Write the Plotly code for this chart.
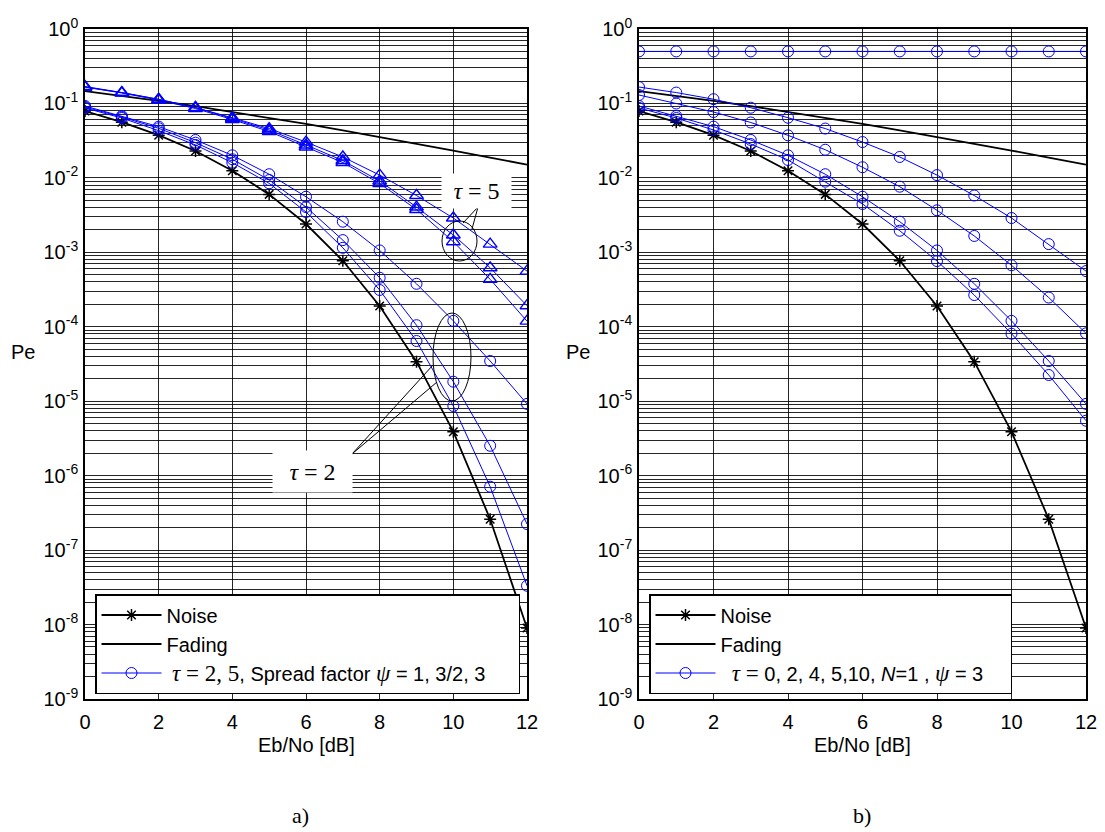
import plotly.graph_objects as go

W, H = 1105, 832

# ---------------- data ----------------
ebno = [0, 1, 2, 3, 4, 5, 6, 7, 8, 9, 10, 11, 12]
noise = [7.9e-2, 5.6e-2, 3.75e-2, 2.3e-2, 1.25e-2, 6.0e-3, 2.4e-3, 7.7e-4, 1.9e-4, 3.4e-5, 3.9e-6, 2.6e-7, 9.0e-9]
fading = [0.146, 0.127, 0.108, 0.092, 0.077, 0.064, 0.053, 0.0435, 0.0355, 0.0288, 0.0233, 0.0187, 0.0151]

# (a) tau = 5, psi = 3, 3/2, 1  (triangles)
tri_a1 = [0.166, 0.140, 0.114, 0.0877, 0.0643, 0.046, 0.0303, 0.0191, 0.0109, 0.0058, 0.00289, 0.00129, 5.6e-4]
tri_a2 = [0.169, 0.140, 0.113, 0.0882, 0.0628, 0.044, 0.0277, 0.0171, 0.00908, 0.00406, 0.00171, 6.2e-4, 1.92e-4]
tri_a3 = [0.166, 0.138, 0.111, 0.0855, 0.0608, 0.042, 0.026, 0.0161, 0.0084, 0.00376, 0.00139, 4.34e-4, 1.19e-4]
# (a) tau = 2, psi = 3, 3/2, 1  (circles)
cir_a1 = [0.0924, 0.0678, 0.0488, 0.0323, 0.0201, 0.0112, 0.00558, 0.00258, 0.00106, 3.78e-4, 1.2e-4, 3.47e-5, 9.2e-6]
cir_a2 = [0.0895, 0.0657, 0.0464, 0.0297, 0.0178, 0.00937, 0.00406, 0.00146, 4.56e-4, 1.05e-4, 1.83e-5, 2.52e-6, 2.24e-7]
cir_a3 = [0.0869, 0.0637, 0.0431, 0.0277, 0.016, 0.00845, 0.00348, 0.00115, 3.12e-4, 6.44e-5, 8.63e-6, 7.11e-7, 3.32e-8]

# (b) tau = 10, 5, 4, 2, 0 ; N = 1 ; psi = 3  (circles)
cir_b_t10 = [0.5, 0.5, 0.5, 0.5, 0.5, 0.5, 0.5, 0.5, 0.5, 0.5, 0.5, 0.5, 0.5]
cir_b_t5 = [0.166, 0.140, 0.114, 0.0877, 0.0643, 0.046, 0.0303, 0.0191, 0.0109, 0.0058, 0.00289, 0.00129, 5.6e-4]
cir_b_t4 = [0.1298, 0.0998, 0.0767, 0.0555, 0.0373, 0.0239, 0.0139, 0.00762, 0.00367, 0.00166, 6.7e-4, 2.47e-4, 8.17e-5]
cir_b_t2 = [0.0924, 0.0678, 0.0488, 0.0323, 0.0201, 0.0112, 0.00558, 0.00258, 0.00106, 3.78e-4, 1.2e-4, 3.47e-5, 9.2e-6]
cir_b_t0 = [0.0869, 0.0637, 0.044, 0.0285, 0.0174, 0.0089, 0.00446, 0.00195, 7.64e-4, 2.67e-4, 8.07e-5, 2.25e-5, 5.47e-6]

x_ticks = [0, 2, 4, 6, 8, 10, 12]
y_exps = [-9, -8, -7, -6, -5, -4, -3, -2, -1, 0]

# ---------------- styling ----------------
SANS = "Liberation Sans, Arial, sans-serif"
SERIF = "Liberation Serif, Times New Roman, serif"
BLUE = "#0000FF"
GRID = "rgba(0,0,0,0.85)"
NB = "\u00a0"


def px(x):
    return x / W


def py(y):
    return 1 - y / H


fig = go.Figure()


def add_line(xa, ya, y, color, width, symbol=None, msize=0, mlw=1.0, name="", legend="legend", show=False):
    mode = "lines+markers" if symbol else "lines"
    fig.add_trace(go.Scatter(
        x=ebno, y=y, mode=mode, name=name, xaxis=xa, yaxis=ya,
        line=dict(color=color, width=width),
        marker=dict(symbol=symbol or "circle", size=msize, color=color,
                    line=dict(color=color, width=mlw)),
        showlegend=show, legend=legend,
    ))


leg_a = (NB + '<span style="font-family:Liberation Serif;font-size:23px"><i>τ</i> = 2, 5</span>, '
         'Spread factor <span style="font-family:Liberation Serif;font-size:23px"><i>ψ</i></span> = 1, 3/2, 3'
         + NB * 5)
leg_b = (NB + '<span style="font-family:Liberation Serif;font-size:23px"> <i>τ</i> =</span> 0, 2, 4, 5,10, '
         '<i>N</i>=1 , <span style="font-family:Liberation Serif;font-size:23px"><i>ψ</i></span> = 3'
         + NB * 4)

# ----- panel (a)
add_line("x", "y", noise, "black", 1.8, "asterisk-open", 10, 1.5, "Noise", "legend", True)
add_line("x", "y", fading, "black", 1.8, None, 0, 1, "Fading", "legend", True)
add_line("x", "y", cir_a1, BLUE, 1, "circle-open", 11, 1, leg_a, "legend", True)
add_line("x", "y", cir_a2, BLUE, 1, "circle-open", 11, 1)
add_line("x", "y", cir_a3, BLUE, 1, "circle-open", 11, 1)
add_line("x", "y", tri_a1, BLUE, 1, "triangle-up-open", 12, 1.4)
add_line("x", "y", tri_a2, BLUE, 1, "triangle-up-open", 12, 1.4)
add_line("x", "y", tri_a3, BLUE, 1, "triangle-up-open", 12, 1.4)

# ----- panel (b)
add_line("x2", "y2", noise, "black", 1.8, "asterisk-open", 10, 1.5, "Noise", "legend2", True)
add_line("x2", "y2", fading, "black", 1.8, None, 0, 1, "Fading", "legend2", True)
add_line("x2", "y2", cir_b_t10, BLUE, 1, "circle-open", 11, 1, leg_b, "legend2", True)
add_line("x2", "y2", cir_b_t5, BLUE, 1, "circle-open", 11, 1, legend="legend2")
add_line("x2", "y2", cir_b_t4, BLUE, 1, "circle-open", 11, 1, legend="legend2")
add_line("x2", "y2", cir_b_t2, BLUE, 1, "circle-open", 11, 1, legend="legend2")
add_line("x2", "y2", cir_b_t0, BLUE, 1, "circle-open", 11, 1, legend="legend2")

minor_vals = [m * 10.0 ** e for e in range(-9, 0) for m in range(2, 10)]
ytickvals = [10.0 ** e for e in y_exps]
yticktext = ["10<sup>%d</sup>" % e for e in y_exps]

xax = dict(range=[0, 12], tickvals=x_ticks, showgrid=True, gridcolor=GRID, gridwidth=1,
           showline=True, mirror=True, linecolor="black", linewidth=1.6, ticks="",
           zeroline=False, automargin=False, tickfont=dict(family=SANS, size=20, color="black"),
           ticklabelstandoff=4)
yax = dict(type="log", range=[-9, 0], tickvals=ytickvals, ticktext=yticktext,
           showgrid=True, gridcolor=GRID, gridwidth=1,
           minor=dict(tickvals=minor_vals, showgrid=True, gridcolor=GRID, gridwidth=1, ticks=""),
           showline=True, mirror=True, linecolor="black", linewidth=1.6, ticks="",
           zeroline=False, automargin=False, tickfont=dict(family=SANS, size=20, color="black"),
           ticklabelstandoff=1)

ydom = [py(699), py(29)]
legend_common = dict(bgcolor="white", bordercolor="black", borderwidth=1.5,
                     font=dict(family=SANS, size=20, color="black"),
                     xanchor="left", yanchor="top", tracegroupgap=0, itemwidth=60)

fig.update_layout(
    template="none",
    width=W, height=H, autosize=False,
    margin=dict(l=0, r=0, t=0, b=0, pad=0),
    paper_bgcolor="white", plot_bgcolor="white",
    xaxis=dict(xax, domain=[px(85), px(527)], anchor="y"),
    yaxis=dict(yax, domain=ydom, anchor="x"),
    xaxis2=dict(xax, domain=[px(639), px(1086)], anchor="y2"),
    yaxis2=dict(yax, domain=ydom, anchor="x2"),
    legend=dict(legend_common, x=px(95), y=py(594)),
    legend2=dict(legend_common, x=px(649), y=py(594)),
    font=dict(family=SANS, color="black"),
)

ann = []
def text(x, y, s, size, family=SANS, **kw):
    ann.append(dict(x=px(x), y=py(y), xref="paper", yref="paper", text=s, showarrow=False,
                    font=dict(family=family, size=size, color="black"),
                    xanchor="center", yanchor="middle", **kw))

text(23, 352, "Pe", 20)
text(578, 352, "Pe", 20)
text(306, 745, "Eb/No [dB]", 20)
text(862, 745, "Eb/No [dB]", 20)
text(300, 815, "a)", 22, SERIF)
text(862, 815, "b)", 22, SERIF)
text(476.5, 191, "<i>τ</i> = 5", 24, SERIF, bgcolor="white", width=67, height=32)
text(312.5, 471.5, "<i>τ</i> = 2", 24, SERIF, bgcolor="white", width=77, height=39)

shapes = []
def ellipse(x0, y0, x1, y1):
    shapes.append(dict(type="circle", xref="paper", yref="paper", x0=px(x0), x1=px(x1),
                       y0=py(y1), y1=py(y0), line=dict(color="black", width=1)))

def seg(x0, y0, x1, y1):
    shapes.append(dict(type="line", xref="paper", yref="paper", x0=px(x0), y0=py(y0),
                       x1=px(x1), y1=py(y1), line=dict(color="black", width=1)))

ellipse(442, 221, 477, 261)
ellipse(433, 313, 471, 401)
seg(463, 223, 478, 207)
seg(472, 229, 478, 207)
seg(433, 365, 352, 454)
seg(437, 382, 352, 454)

fig.update_layout(annotations=ann, shapes=shapes)

fig.write_html("out.html", config={"displayModeBar": False},
               post_script="document.body.style.margin='0';")
